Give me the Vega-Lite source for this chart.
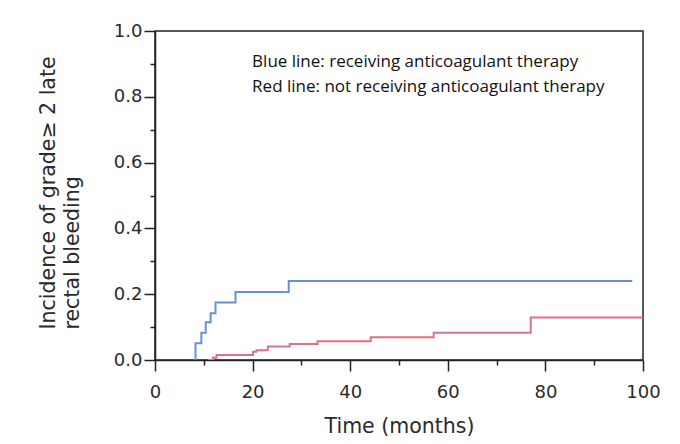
{
  "$schema": "https://vega.github.io/schema/vega-lite/v6.json",
  "width": 488,
  "height": 329,
  "autosize": {"type": "none"},
  "padding": {"left": 155, "top": 31, "right": 37, "bottom": 84},
  "background": "white",
  "config": {
    "view": {"stroke": "#222222", "strokeWidth": 1.5},
    "axis": {
      "grid": false,
      "domainColor": "#222222",
      "domainWidth": 1.5,
      "tickColor": "#222222",
      "tickWidth": 1.5,
      "labelFont": "DejaVu Sans",
      "labelFontSize": 18,
      "labelColor": "#2a2a2a",
      "titleFont": "DejaVu Sans",
      "titleFontSize": 20.5,
      "titleFontWeight": "normal",
      "titleColor": "#2a2a2a"
    }
  },
  "datasets": {
    "curves": [
      {"group": "receiving", "time": 8.3, "incidence": 0.0},
      {"group": "receiving", "time": 8.3, "incidence": 0.051},
      {"group": "receiving", "time": 9.5, "incidence": 0.083},
      {"group": "receiving", "time": 10.4, "incidence": 0.115},
      {"group": "receiving", "time": 11.4, "incidence": 0.142},
      {"group": "receiving", "time": 12.4, "incidence": 0.175},
      {"group": "receiving", "time": 16.5, "incidence": 0.207},
      {"group": "receiving", "time": 27.4, "incidence": 0.24},
      {"group": "receiving", "time": 97.8, "incidence": 0.24},
      {"group": "not receiving", "time": 10.9, "incidence": 0.0},
      {"group": "not receiving", "time": 11.9, "incidence": 0.007},
      {"group": "not receiving", "time": 12.6, "incidence": 0.015},
      {"group": "not receiving", "time": 20.1, "incidence": 0.025},
      {"group": "not receiving", "time": 20.8, "incidence": 0.03},
      {"group": "not receiving", "time": 23.1, "incidence": 0.041},
      {"group": "not receiving", "time": 27.6, "incidence": 0.049},
      {"group": "not receiving", "time": 33.3, "incidence": 0.057},
      {"group": "not receiving", "time": 44.2, "incidence": 0.069},
      {"group": "not receiving", "time": 57.1, "incidence": 0.083},
      {"group": "not receiving", "time": 77.0, "incidence": 0.129},
      {"group": "not receiving", "time": 100, "incidence": 0.129}
    ],
    "notes": [
      {"label": "Blue line: receiving anticoagulant therapy", "time": 19.9, "incidence": 0.892},
      {"label": "Red line: not receiving anticoagulant therapy", "time": 19.9, "incidence": 0.816}
    ]
  },
  "layer": [
    {
      "data": {"name": "curves"},
      "mark": {"type": "line", "interpolate": "step-after", "strokeWidth": 2, "clip": true},
      "encoding": {
        "x": {
          "field": "time", "type": "quantitative",
          "scale": {"domain": [0, 100], "nice": false},
          "axis": {
            "orient": "bottom",
            "values": [0, 20, 40, 60, 80, 100],
            "tickSize": 11,
            "labelPadding": 26,
            "labelBaseline": "alphabetic",
            "labelFlush": false,
            "title": "Time (months)",
            "titleBaseline": "alphabetic",
            "titleY": 72
          }
        },
        "y": {
          "field": "incidence", "type": "quantitative",
          "scale": {"domain": [0, 1], "nice": false},
          "axis": {
            "orient": "left",
            "values": [0, 0.2, 0.4, 0.6, 0.8, 1.0],
            "format": ".1f",
            "tickSize": 11,
            "labelPadding": 2,
            "labelFlush": false,
            "title": ["Incidence of grade≥ 2 late", "rectal bleeding"],
            "titleX": -107,
            "titleY": 298,
            "titleAlign": "left",
            "titleBaseline": "middle",
            "titleLineHeight": 24
          }
        },
        "color": {
          "field": "group", "type": "nominal",
          "scale": {"domain": ["receiving", "not receiving"], "range": ["#6a8de0", "#de7183"]},
          "legend": null
        },
        "detail": {"field": "group"}
      }
    },
    {
      "data": {"name": "notes"},
      "mark": {"type": "text", "align": "left", "baseline": "alphabetic", "font": "Open Sans", "fontSize": 17, "color": "#111111"},
      "encoding": {
        "x": {
          "field": "time", "type": "quantitative",
          "axis": {
            "orient": "bottom",
            "values": [10, 30, 50, 70, 90],
            "tickSize": 5,
            "labels": false,
            "domain": false,
            "title": null
          }
        },
        "y": {
          "field": "incidence", "type": "quantitative",
          "axis": {
            "orient": "left",
            "values": [0.1, 0.3, 0.5, 0.7, 0.9],
            "tickSize": 5,
            "labels": false,
            "domain": false,
            "title": null
          }
        },
        "text": {"field": "label"}
      }
    }
  ],
  "resolve": {"axis": {"x": "independent", "y": "independent"}}
}
